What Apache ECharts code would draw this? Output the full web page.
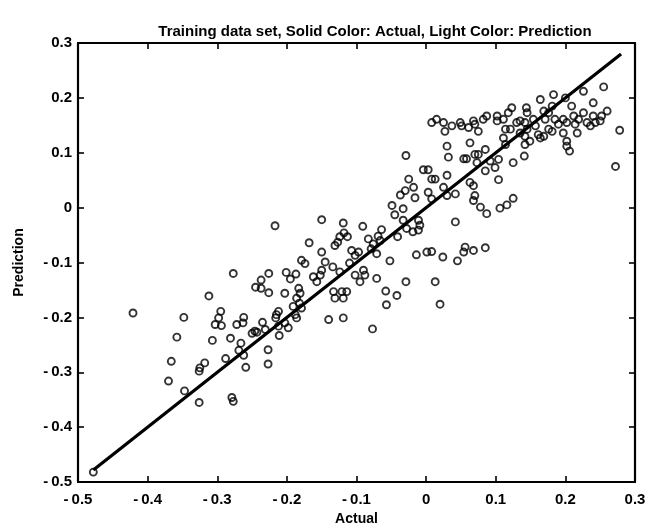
<!DOCTYPE html>
<html>
<head>
<meta charset="utf-8">
<script src="https://cdn.jsdelivr.net/npm/echarts@6/dist/echarts.min.js"></script>
<style>html,body{margin:0;padding:0;background:#fff;}#chart{width:652px;height:531px;}</style>
</head>
<body>
<div id="chart"></div>
<script>
var titleText = 'Training data set, Solid Color: Actual, Light Color: Prediction';
var xName = 'Actual';
var yName = 'Prediction';
var xTicks = [-0.5, -0.4, -0.3, -0.2, -0.1, 0, 0.1, 0.2, 0.3];
var yTicks = [-0.5, -0.4, -0.3, -0.2, -0.1, 0, 0.1, 0.2, 0.3];

// Solid line: actual vs actual
var lineActual = [-0.478, 0.28];

// Scatter: actual (x) vs prediction (y)
var actual = [
-0.478,-0.421,-0.217,-0.277,-0.245,-0.237,-0.226,-0.237,-0.226,-0.312,-0.348,-0.295,-0.298,-0.303,-0.294,-0.272,-0.262,-0.263,
-0.358,-0.307,-0.281,-0.266,-0.250,-0.235,-0.215,-0.216,-0.211,-0.231,-0.243,-0.269,-0.262,-0.227,-0.227,-0.259,-0.288,-0.318,
-0.325,-0.326,-0.366,-0.370,-0.347,-0.326,-0.279,-0.277,
-0.029,-0.025,-0.018,-0.030,-0.037,-0.016,-0.049,-0.045,-0.033,-0.150,-0.119,-0.091,-0.064,-0.033,-0.011,-0.009,-0.011,-0.028,
-0.019,-0.041,-0.069,-0.066,-0.083,-0.076,-0.124,-0.113,-0.118,-0.131,-0.127,-0.168,-0.150,-0.107,-0.102,-0.097,-0.079,-0.071,
-0.014,-0.052,-0.179,-0.174,-0.145,-0.134,-0.110,-0.090,-0.088,-0.095,-0.102,-0.150,-0.152,-0.162,-0.157,-0.124,-0.071,-0.029,
0.013,-0.201,-0.195,-0.187,-0.203,-0.183,-0.181,-0.186,-0.182,-0.191,-0.179,-0.188,-0.186,-0.133,-0.121,-0.114,-0.131,-0.119,
-0.058,-0.042,-0.057,0.020,-0.140,-0.119,-0.077,-0.212,-0.246,-0.203,-0.198,-0.212,
0.008,0.015,0.025,0.027,0.037,0.049,0.051,0.061,0.068,0.070,0.075,0.082,0.087,0.102,0.102,0.111,0.118,0.123,0.121,0.114,
0.130,0.135,0.144,0.145,0.142,0.145,0.154,0.157,0.164,0.169,0.171,0.176,0.181,0.183,0.185,0.190,0.197,0.200,0.202,0.209,
0.212,0.214,0.217,0.219,0.226,0.226,0.231,0.236,0.240,0.240,0.243,0.250,0.252,0.255,0.260,0.278,0.272,
0.197,0.202,0.202,0.206,0.030,0.032,0.054,0.058,0.063,0.070,0.075,0.085,0.073,0.085,0.092,0.099,0.104,0.104,0.125,0.141,
0.111,0.114,0.135,0.142,0.142,0.149,0.161,0.164,0.169,0.176,0.181,
-0.004,0.003,0.008,0.013,0.030,0.003,0.008,0.025,0.030,0.042,0.063,0.068,0.070,0.068,0.078,0.087,0.106,0.116,0.125,0.042,
0.001,0.008,0.024,0.054,0.056,0.068,0.085,0.045
];
var prediction = [
-0.482,-0.192,-0.033,-0.120,-0.145,-0.132,-0.120,-0.147,-0.155,-0.161,-0.200,-0.189,-0.201,-0.213,-0.215,-0.213,-0.200,-0.210,
-0.236,-0.242,-0.238,-0.247,-0.229,-0.209,-0.195,-0.201,-0.233,-0.222,-0.227,-0.260,-0.269,-0.259,-0.285,-0.291,-0.275,-0.283,
-0.292,-0.298,-0.280,-0.316,-0.334,-0.355,-0.346,-0.353,
0.095,0.052,0.037,0.031,0.023,0.018,0.004,-0.013,-0.002,-0.022,-0.028,-0.034,-0.040,-0.023,-0.023,-0.032,-0.041,-0.038,
-0.044,-0.053,-0.052,-0.060,-0.057,-0.066,-0.053,-0.053,-0.046,-0.069,-0.063,-0.064,-0.081,-0.078,-0.087,-0.081,-0.075,-0.084,
-0.086,-0.097,-0.096,-0.102,-0.099,-0.108,-0.101,-0.114,-0.123,-0.135,-0.123,-0.114,-0.123,-0.126,-0.135,-0.117,-0.129,-0.135,
-0.135,-0.118,-0.130,-0.121,-0.156,-0.147,-0.156,-0.165,-0.174,-0.180,-0.183,-0.195,-0.201,-0.153,-0.153,-0.153,-0.165,-0.165,
-0.152,-0.160,-0.177,-0.176,-0.204,-0.201,-0.221,-0.189,-0.225,-0.210,-0.219,-0.216,
0.155,0.161,0.155,0.139,0.149,0.155,0.149,0.146,0.158,0.152,0.139,0.161,0.167,0.167,0.158,0.161,0.173,0.182,0.143,0.143,
0.155,0.158,0.182,0.173,0.155,0.143,0.161,0.149,0.197,0.176,0.161,0.173,0.185,0.206,0.161,0.152,0.161,0.200,0.155,0.185,
0.167,0.152,0.136,0.161,0.212,0.173,0.155,0.149,0.191,0.167,0.155,0.158,0.167,0.220,0.176,0.141,0.075,
0.136,0.121,0.112,0.103,0.112,0.092,0.089,0.089,0.118,0.097,0.097,0.106,0.082,0.067,0.085,0.073,0.088,0.051,0.082,0.094,
0.127,0.115,0.136,0.130,0.115,0.121,0.133,0.127,0.130,0.143,0.139,
0.069,0.069,0.052,0.052,0.059,0.028,0.016,0.037,0.022,0.025,0.046,0.040,0.022,0.013,0.001,-0.011,-0.001,0.005,0.017,-0.026,
-0.081,-0.080,-0.090,-0.081,-0.072,-0.078,-0.073,-0.097
];

var FONT = "'Liberation Sans', Arial, Helvetica, sans-serif";

function fmt(v) {
  var r = Math.round(v * 10) / 10;
  if (Math.abs(r) < 1e-9) return '0';
  var s = Math.abs(r).toFixed(1);
  return r < 0 ? '-\u2009' + s : s;
}

var points = actual.map(function (a, i) { return [a, prediction[i]]; });
var linePts = lineActual.map(function (a) { return [a, a]; });

var chart = echarts.init(document.getElementById('chart'), null, { renderer: 'canvas' });

var baseAxis = {
  min: xTicks[0], max: xTicks[xTicks.length - 1], interval: 0.1,
  splitLine: { show: false },
  axisLine: { show: true, onZero: false, lineStyle: { color: '#000', width: 2.2 } },
  axisTick: { show: true, inside: true, length: 6, lineStyle: { color: '#000', width: 1.6 } }
};

chart.setOption({
  animation: false,
  backgroundColor: '#fff',
  title: {
    text: titleText, left: 370, top: 19, textAlign: 'center',
    textStyle: { fontFamily: FONT, fontSize: 15, fontWeight: 'bold', color: '#000' }
  },
  grid: { left: 78, right: 17, top: 43, bottom: 46, containLabel: false },
  xAxis: [
    Object.assign({}, baseAxis, {
      type: 'value', position: 'bottom',
      name: xName, nameLocation: 'middle', nameGap: 30,
      nameTextStyle: { fontFamily: FONT, fontSize: 14, fontWeight: 'bold', color: '#000' },
      axisLabel: { show: true, margin: 10, formatter: fmt, fontFamily: FONT, fontSize: 15, fontWeight: 'bold', color: '#000' }
    }),
    Object.assign({}, baseAxis, { type: 'value', position: 'top', axisLabel: { show: false } })
  ],
  yAxis: [
    Object.assign({}, baseAxis, {
      type: 'value', position: 'left', min: yTicks[0], max: yTicks[yTicks.length - 1],
      name: yName, nameLocation: 'middle', nameGap: 52, nameRotate: 90,
      nameTextStyle: { fontFamily: FONT, fontSize: 14, fontWeight: 'bold', color: '#000' },
      axisLabel: { show: true, margin: 6, formatter: fmt, fontFamily: FONT, fontSize: 15, fontWeight: 'bold', color: '#000' }
    }),
    Object.assign({}, baseAxis, { type: 'value', position: 'right', min: yTicks[0], max: yTicks[yTicks.length - 1], axisLabel: { show: false } })
  ],
  series: [
    {
      type: 'line', xAxisIndex: 0, yAxisIndex: 0, data: linePts,
      showSymbol: false, lineStyle: { color: '#000', width: 3.2 }, z: 3
    },
    {
      type: 'scatter', xAxisIndex: 0, yAxisIndex: 0, data: points,
      symbol: 'circle', symbolSize: 7,
      itemStyle: { color: 'rgba(0,0,0,0)', borderColor: '#000', borderWidth: 1.9 }, z: 4
    }
  ]
});
</script>
</body>
</html>
